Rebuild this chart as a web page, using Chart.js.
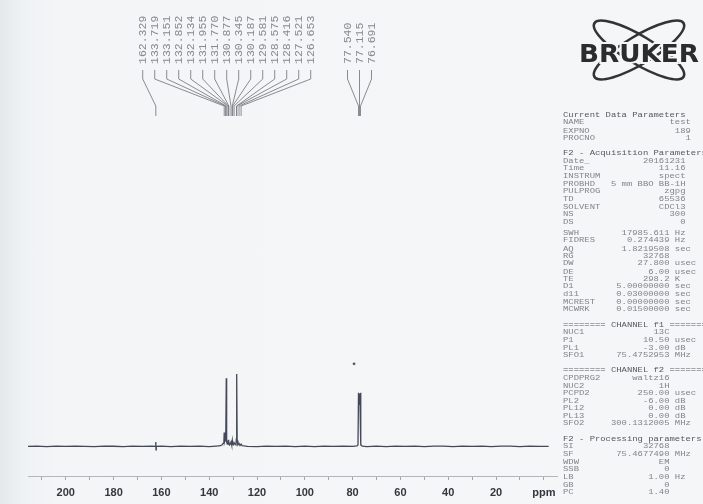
<!DOCTYPE html>
<html>
<head>
<meta charset="utf-8">
<script src="https://cdn.jsdelivr.net/npm/chart.js@4.4.1/dist/chart.umd.min.js"></script>
<style>
  html, body { margin: 0; padding: 0; }
  body {
    width: 703px; height: 504px; overflow: hidden; position: relative;
    background: linear-gradient(to right, #e4e8eb 0px, #eff2f4 22px, #f3f5f7 60px, #f4f6f8 100%);
  }
  #spectrum { position: absolute; left: 0; top: 0; }
  #logo { position: absolute; left: 572px; top: 10px; }
  #params {
    position: absolute; left: 563px; top: 112px;
    font-family: "Liberation Mono", "DejaVu Sans Mono", monospace;
    font-size: 8.9px; color: #80848a; white-space: pre;
    transform: scaleY(0.82); transform-origin: 0 0;
  }
  #params div { height: 9.3px; line-height: 9.3px; }
  #params .hd { color: #55595e; }
  #params .gap { height: 9.3px; }
  #params .half { height: 4.6px; }
</style>
</head>
<body>
<canvas id="spectrum" width="703" height="504"></canvas>

<svg id="logo" width="131" height="78" viewBox="0 0 131 78">
  <ellipse cx="67" cy="40" rx="52" ry="14" transform="rotate(31 67 40)" fill="none" stroke="#333" stroke-width="2.6"/>
  <ellipse cx="67" cy="40" rx="52" ry="14" transform="rotate(-31 67 40)" fill="none" stroke="#333" stroke-width="2.6"/>
  <text x="67" y="52" text-anchor="middle" font-family="DejaVu Sans" font-weight="bold" font-size="25"
        textLength="120" lengthAdjust="spacingAndGlyphs"
        fill="#2c2c2c" stroke="#f4f6f8" stroke-width="4" paint-order="stroke">BRUKER</text>
</svg>

<div id="params"></div>

<script>
// observed peaks (ppm) as printed above the spectrum
const peakShifts = [162.329, 133.719, 133.151, 132.852, 132.134, 131.955, 131.770, 130.877,
    130.345, 130.187, 129.581, 128.575, 128.416, 127.521, 126.653, 77.540, 77.115, 76.691];

// spectrum trace: chemical shift (ppm) and relative intensity
const tracePpm = [216, 212, 208, 204, 200, 196, 192, 188, 184, 180, 176, 172, 168, 164,
    162.45, 162.33, 162.25, 162.15, 160, 156, 152, 148, 144, 140, 137, 135.2,
    134.6, 134.2, 133.85, 133.719, 133.6, 133.35, 133.151, 133.0, 132.852, 132.7, 132.45,
    132.134, 132.04, 131.955, 131.86, 131.770, 131.5, 131.2, 130.877, 130.6, 130.345, 130.26,
    130.187, 130.0, 129.8, 129.581, 129.2, 128.8, 128.65, 128.575, 128.495, 128.416, 128.3,
    128.0, 127.521, 127.1, 126.653, 126.2, 125.4, 124, 120, 116, 112, 108, 104, 100, 96, 92,
    88, 84, 80, 78.2, 77.75, 77.540, 77.33, 77.115, 76.90, 76.691, 76.5, 76.0, 74, 70, 66,
    62, 58, 54, 50, 46, 42, 38, 34, 30, 26, 22, 18, 14, 10, 6, 2, -2, -5.5];
const traceIntensity = [0, 0.4, -0.3, 0.3, -0.2, 0.4, 0, -0.4, 0.3, 0.1, -0.3, 0.4, -0.2, 0.2,
    0, 6, -5, 0, 0.3, -0.3, 0.2, -0.2, 0.4, -0.5, 0.3, 0.8,
    2, 4, 7, 19, 6, 9, 21, 8, 94, 6, 3,
    8, 3, 9, 3, 7, 2, 3, 6, 2, 8, 4,
    7, 2, 3, 5, 3, 2, 10, 100, 55, 98, 8,
    2, 4, 1, 3, 1, 0.5, 0, -0.3, 0.3, -0.2, 0.4, -0.3, 0.2, -0.4, 0.3,
    -0.2, 0.4, 0, 0.5, 2, 74, 58, 73, 57, 74, 2, 0.4, -0.3, 0.3, -0.4,
    0.2, -0.2, 0.4, -0.3, 0.2, 0.4, -0.4, 0.3, -0.2, 0.3, -0.3, 0.2, 0.4, -0.3, 0.2, -0.2, 0];

// the small "*" mark above the solvent signal
const starPpm = [79.4];
const starIntensity = [114];

// x axis
const tickValues = [210, 200, 190, 180, 170, 160, 150, 140, 130, 120, 110, 100, 90, 80, 70, 60, 50, 40, 30, 20, 10, 0];
const tickLabels = ['', '200', '', '180', '', '160', '', '140', '', '120', '', '100', '', '80', '', '60', '', '40', '', '20', '', 'ppm'];

// acquisition / processing parameter panel (name, value, unit)
const paramBlocks = [
    { title: 'Current Data Parameters', rows: [['NAME', 'test'], ['EXPNO', '189'], ['PROCNO', '1']], col: 24 },
    { title: 'F2 - Acquisition Parameters', rows: [['Date_', '20161231'], ['Time', '11.16'], ['INSTRUM', 'spect'],
        ['PROBHD', '5 mm BBO BB-1H'], ['PULPROG', 'zgpg'], ['TD', '65536'], ['SOLVENT', 'CDCl3'], ['NS', '300'], ['DS', '0'],
        null,
        ['SWH', '17985.611', 'Hz'], ['FIDRES', '0.274439', 'Hz'], ['AQ', '1.8219508', 'sec'], ['RG', '32768', ''],
        ['DW', '27.800', 'usec'], ['DE', '6.00', 'usec'], ['TE', '298.2', 'K'], ['D1', '5.00000000', 'sec'],
        ['d11', '0.03000000', 'sec'], ['MCREST', '0.00000000', 'sec'], ['MCWRK', '0.01500000', 'sec']], col: 23 },
    { title: '======== CHANNEL f1 ========', rows: [['NUC1', '13C', ''], ['P1', '10.50', 'usec'], ['PL1', '-3.00', 'dB'],
        ['SFO1', '75.4752953', 'MHz']], col: 20 },
    { title: '======== CHANNEL f2 ========', rows: [['CPDPRG2', 'waltz16', ''], ['NUC2', '1H', ''], ['PCPD2', '250.00', 'usec'],
        ['PL2', '-6.00', 'dB'], ['PL12', '0.00', 'dB'], ['PL13', '0.00', 'dB'], ['SFO2', '300.1312005', 'MHz']], col: 20 },
    { title: 'F2 - Processing parameters', rows: [['SI', '32768', ''], ['SF', '75.4677490', 'MHz'], ['WDW', 'EM', ''],
        ['SSB', '0', ''], ['LB', '1.00', 'Hz'], ['GB', '0', ''], ['PC', '1.40', '']], col: 20 }
];

// build the parameter text
const panel = document.getElementById('params');
paramBlocks.forEach((block, bi) => {
    if (bi > 0) {
        const g = document.createElement('div');
        g.className = 'gap';
        panel.appendChild(g);
    }
    const h = document.createElement('div');
    h.className = 'hd';
    h.textContent = block.title;
    panel.appendChild(h);
    block.rows.forEach(r => {
        const d = document.createElement('div');
        if (!r) {
            d.className = 'half';
            panel.appendChild(d);
            return;
        }
        let line;
        if (r.length === 3) {
            line = r[0].padEnd(20 - r[1].length) + r[1] + (r[2] ? ' ' + r[2] : '');
        } else {
            line = r[0].padEnd(block.col - r[1].length) + r[1];
        }
        d.textContent = line;
        panel.appendChild(d);
    });
});

// peak labels: spread them out like the printout and draw the leader lines
const peakLabelPlugin = {
    id: 'peakLabels',
    afterDraw(chart) {
        const ctx = chart.ctx;
        const xs = chart.scales.x;
        const gap = 12;
        // labels that would overlap get merged into one evenly spaced group
        let clusters = peakShifts.map((p, i) => ({ idx: [i], want: [xs.getPixelForValue(p)] }))
            .sort((a, b) => a.want[0] - b.want[0]);
        const place = c => {
            const mean = c.want.reduce((s, v) => s + v, 0) / c.want.length;
            c.start = mean - (c.want.length - 1) * gap / 2;
            c.end = c.start + (c.want.length - 1) * gap;
        };
        clusters.forEach(place);
        let merged = true;
        while (merged) {
            merged = false;
            for (let i = 0; i < clusters.length - 1; i++) {
                if (clusters[i + 1].start - clusters[i].end < gap) {
                    clusters[i].idx = clusters[i].idx.concat(clusters[i + 1].idx);
                    clusters[i].want = clusters[i].want.concat(clusters[i + 1].want);
                    place(clusters[i]);
                    clusters.splice(i + 1, 1);
                    merged = true;
                    break;
                }
            }
        }

        ctx.save();
        ctx.strokeStyle = '#7c8086';
        ctx.lineWidth = 0.9;
        ctx.fillStyle = '#868a8f';
        ctx.font = '11.5px "Liberation Mono", monospace';
        clusters.forEach(c => {
            c.idx.forEach((pi, k) => {
                const lx = c.start + k * gap;
                const px = c.want[k];
                ctx.beginPath();
                ctx.moveTo(lx, 70);
                ctx.lineTo(lx, 79);
                ctx.lineTo(px, 106);
                ctx.lineTo(px, 116);
                ctx.stroke();

                ctx.save();
                ctx.translate(lx + 0.5, 64);
                ctx.rotate(-Math.PI / 2);
                ctx.textAlign = 'left';
                ctx.textBaseline = 'middle';
                ctx.fillText(peakShifts[pi].toFixed(3), 0, 0);
                ctx.restore();
            });
        });
        ctx.restore();
    }
};

const ctx = document.getElementById('spectrum').getContext('2d');
const spectrumChart = new Chart(ctx, {
    type: 'line',
    data: {
        datasets: [{
            label: '13C',
            data: tracePpm.map((p, i) => ({ x: p, y: traceIntensity[i] })),
            borderColor: '#434958',
            borderWidth: 1.3,
            pointRadius: 0,
            tension: 0,
            fill: false
        }, {
            label: 'mark',
            data: starPpm.map((p, i) => ({ x: p, y: starIntensity[i] })),
            showLine: false,
            pointRadius: 1.4,
            pointBackgroundColor: '#555a62',
            pointBorderWidth: 0
        }]
    },
    options: {
        responsive: false,
        animation: false,
        layout: { padding: { left: 28, right: 146, top: 0, bottom: 0 } },
        plugins: { legend: { display: false }, tooltip: { enabled: false } },
        scales: {
            x: {
                type: 'linear',
                reverse: true,
                min: -5.5,
                max: 215.8,
                afterBuildTicks: scale => {
                    scale.ticks = tickValues.map(v => ({ value: v }));
                },
                afterFit: scale => { scale.height = 28; },
                grid: { drawOnChartArea: false, drawTicks: true, tickLength: 4, color: '#a3a8ad' },
                border: { display: true, color: '#b3b7bb', dash: [2, 2] },
                ticks: {
                    autoSkip: false,
                    maxRotation: 0,
                    padding: 6,
                    color: '#34373c',
                    font: { family: '"Liberation Sans", Arial, sans-serif', size: 11, weight: 'bold' },
                    callback: (v) => {
                        const i = tickValues.indexOf(v);
                        return i >= 0 ? tickLabels[i] : '';
                    }
                }
            },
            y: {
                display: false,
                min: -41,
                max: 611
            }
        }
    },
    plugins: [peakLabelPlugin]
});
</script>
</body>
</html>
